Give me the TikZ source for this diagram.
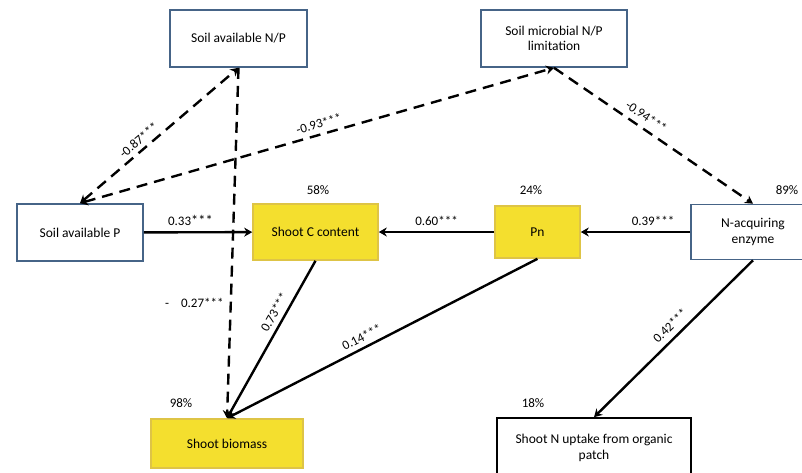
\documentclass[tikz,border=0pt]{standalone}
\usepackage{fontspec}
\setmainfont{Carlito}
\usetikzlibrary{arrows.meta}
\definecolor{soilblue}{RGB}{70,100,135}
\definecolor{plantyellow}{RGB}{244,223,46}
\definecolor{plantgold}{RGB}{222,196,70}

\begin{document}
\begin{tikzpicture}[
  x=1pt, y=-1pt,
  font=\fontsize{13.5}{15.5}\selectfont,
  box/.style={draw, line width=1.6pt, align=center, inner sep=0pt},
  soilbox/.style={box, draw=soilblue, fill=white},
  plantbox/.style={box, draw=plantgold, fill=plantyellow},
  arr/.style={-{Stealth[length=8pt,width=9pt]}, line width=2.4pt, black},
  darr/.style={arr, dash pattern=on 11pt off 7pt},
  wt/.style={font=\fontsize{13}{15}\selectfont, inner sep=2pt},
  pct/.style={font=\fontsize{13}{15}\selectfont}
]
\clip (0,0) rectangle (802,472);
\fill[white] (0,0) rectangle (802,472);

% soil side
\node[soilbox, minimum width=137pt, minimum height=57pt] (avnp)  at (238.5,38.5) {Soil available N/P};
\node[soilbox, minimum width=146pt, minimum height=57pt] (micro) at (554,38.5) {Soil microbial N/P\\limitation};
\node[soilbox, minimum width=126pt, minimum height=57pt] (avp)   at (80,232.5) {Soil available P};
\node[soilbox, minimum width=124pt, minimum height=55pt] (nacq)  at (753,232) {N-acquiring\\enzyme};

% plant side
\node[plantbox, minimum width=125pt, minimum height=56pt] (shootc) at (315.5,232) {Shoot C content};
\node[plantbox, minimum width=85pt, minimum height=52pt]  (pn)     at (537.5,232) {Pn};
\node[plantbox, minimum width=152pt, minimum height=49pt] (biom)   at (227,443.5) {Shoot biomass};
\node[box, draw=black, minimum width=194pt, minimum height=60pt] (nupt) at (594,448) {Shoot N uptake from organic\\patch};

% explained variance
\node[pct] (r58) at (318,190) {58\%};
\node[pct] (r24) at (531,190) {24\%};
\node[pct] (r89) at (787,190) {89\%};
\node[pct] (r98) at (181,403) {98\%};
\node[pct] (r18) at (533,403) {18\%};

% direct paths
\draw[arr] (avp) -- node[wt, above=3pt, pos=0.43] {0.33{\Large***}} (shootc);
\draw[arr] (pn) -- node[wt, above=3pt] {0.60***} (shootc);
\draw[arr] (nacq) -- node[wt, above=3pt, pos=0.34] {0.39***} (pn);
\draw[arr] (shootc.south) -- node[wt, sloped, above=3pt, pos=0.36] {0.73***} (biom.north);
\draw[arr] (pn.south) -- node[wt, sloped, above=3pt, pos=0.55] {0.14***} (biom.north);
\draw[arr] (nacq.south) -- node[wt, sloped, above=4pt, pos=0.47] {0.42***} (nupt.north);

% soil paths
\draw[darr] (avnp.south) -- node[wt, left=4pt, pos=0.67] {-\hspace{12pt}0.27***} (biom.north);
\draw[darr, {Stealth[length=8pt,width=9pt]}-{Stealth[length=8pt,width=9pt]}]
  (avp.north) -- node[wt, sloped, above=2pt, pos=0.41] {-0.87***} (avnp.south);
\draw[darr, {Stealth[length=8pt,width=9pt]}-{Stealth[length=8pt,width=9pt]}]
  (avp.north) -- node[wt, sloped, above=3pt, pos=0.51] {-0.93***} (micro.south);
\draw[darr] (micro.south) -- node[wt, sloped, above=4pt, pos=0.43] {-0.94***} (nacq.north);
\end{tikzpicture}
\end{document}
